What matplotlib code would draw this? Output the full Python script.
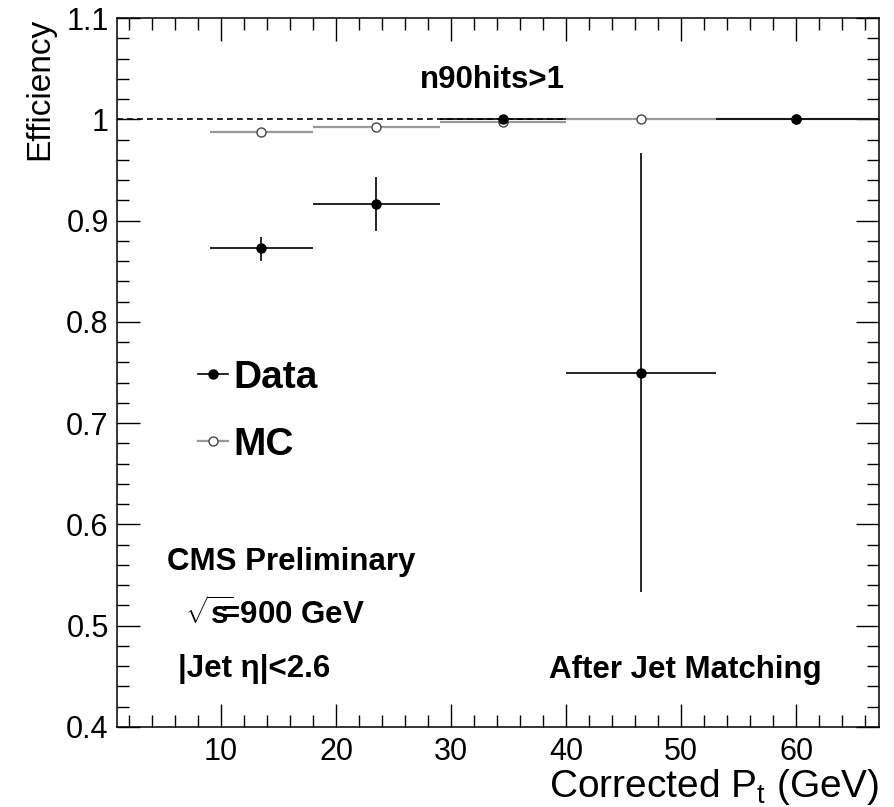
import matplotlib
matplotlib.use("Agg")
import matplotlib.pyplot as plt
from matplotlib.lines import Line2D
from matplotlib.ticker import MultipleLocator
import numpy as np

# bins in corrected Pt (GeV)
bin_lo = np.array([9.0, 18.0, 29.0, 40.0, 53.0])
bin_hi = np.array([18.0, 29.0, 40.0, 53.0, 67.0])

# Data efficiency with asymmetric errors
data_eff = np.array([0.873, 0.916, 1.000, 0.750, 1.000])
data_err_lo = np.array([0.013, 0.026, 0.0, 0.217, 0.0])
data_err_hi = np.array([0.011, 0.027, 0.0, 0.217, 0.0])

# MC efficiency
mc_eff = np.array([0.987, 0.992, 0.997, 1.000, 1.000])

plt.rcParams["font.family"] = ["Liberation Sans", "DejaVu Sans"]
plt.rcParams["mathtext.fontset"] = "custom"
plt.rcParams["mathtext.rm"] = "Liberation Sans"
plt.rcParams["mathtext.bf"] = "Liberation Sans:bold"

fig = plt.figure(figsize=(8.94, 8.07), dpi=100)
ax = fig.add_axes([117 / 894, 1 - 727 / 807, 762 / 894, 709 / 807])

centers = 0.5 * (bin_lo + bin_hi)
xerr = [centers - bin_lo, bin_hi - centers]

ax.axhline(1.0, color="black", lw=1.2, ls=(0, (3.5, 2.5)), zorder=1)

grey = "#999999"
ax.errorbar(centers, mc_eff, xerr=xerr, fmt="o", color=grey, ecolor=grey,
            elinewidth=1.6, markersize=6.5, markerfacecolor="white",
            markeredgecolor="#444444", markeredgewidth=1.0, zorder=2)
ax.errorbar(centers, data_eff, xerr=xerr, yerr=[data_err_lo, data_err_hi],
            fmt="o", color="black", elinewidth=1.2, markersize=6.5, zorder=3)

ax.set_xlim(0.95, 67.2)
ax.set_ylim(0.4, 1.1)
ax.xaxis.set_major_locator(MultipleLocator(10))
ax.xaxis.set_minor_locator(MultipleLocator(2))
ax.yaxis.set_major_locator(MultipleLocator(0.1))
ax.yaxis.set_minor_locator(MultipleLocator(0.02))
ax.set_xticks([10, 20, 30, 40, 50, 60])
ax.set_yticks([0.4, 0.5, 0.6, 0.7, 0.8, 0.9, 1.0, 1.1])
ax.set_yticklabels(["0.4", "0.5", "0.6", "0.7", "0.8", "0.9", "1", "1.1"])
ax.tick_params(which="both", direction="in", top=True, right=True, width=1.0)
ax.tick_params(which="major", length=16.5, labelsize=22)
ax.tick_params(axis="x", which="major", pad=7)
ax.tick_params(axis="y", which="major", pad=6)
ax.tick_params(which="minor", length=8.6)
for sp in ax.spines.values():
    sp.set_linewidth(1.1)

ax.set_ylabel("Efficiency", fontsize=24, loc="top", labelpad=8)
ax.set_xlabel("Corrected P$_\\mathrm{t}$ (GeV)", fontsize=28,
              loc="right", labelpad=0)

handles = [
    Line2D([], [], color="black", marker="o", markersize=6.5, lw=1.2),
    Line2D([], [], color=grey, marker="o", markersize=6.5, lw=1.6,
           markerfacecolor="white", markeredgecolor="#444444"),
]
ax.legend(handles, ["Data", "MC"], loc="center left",
          bbox_to_anchor=(0.0814, 0.445), frameon=False, borderpad=0,
          prop={"weight": "bold", "size": 28}, handlelength=0.75,
          handletextpad=0.15, labelspacing=0.8)

tkw = dict(transform=ax.transAxes, fontsize=22.5, fontweight="bold", va="center")
ax.text(0.493, 0.9126, "n90hits>1", ha="center", **tkw)
ax.text(0.0656, 0.2327, "CMS Preliminary", ha="left", **tkw)
ax.text(0.089, 0.158, r"$\mathbf{\sqrt{s}}\!\!$=900 GeV", ha="left", **tkw)
ax.text(0.080, 0.0818, "|Jet η|<2.6", ha="left", **tkw)
ax.text(0.567, 0.0804, "After Jet Matching", ha="left", **tkw)

fig.savefig("out.png", dpi=100)
